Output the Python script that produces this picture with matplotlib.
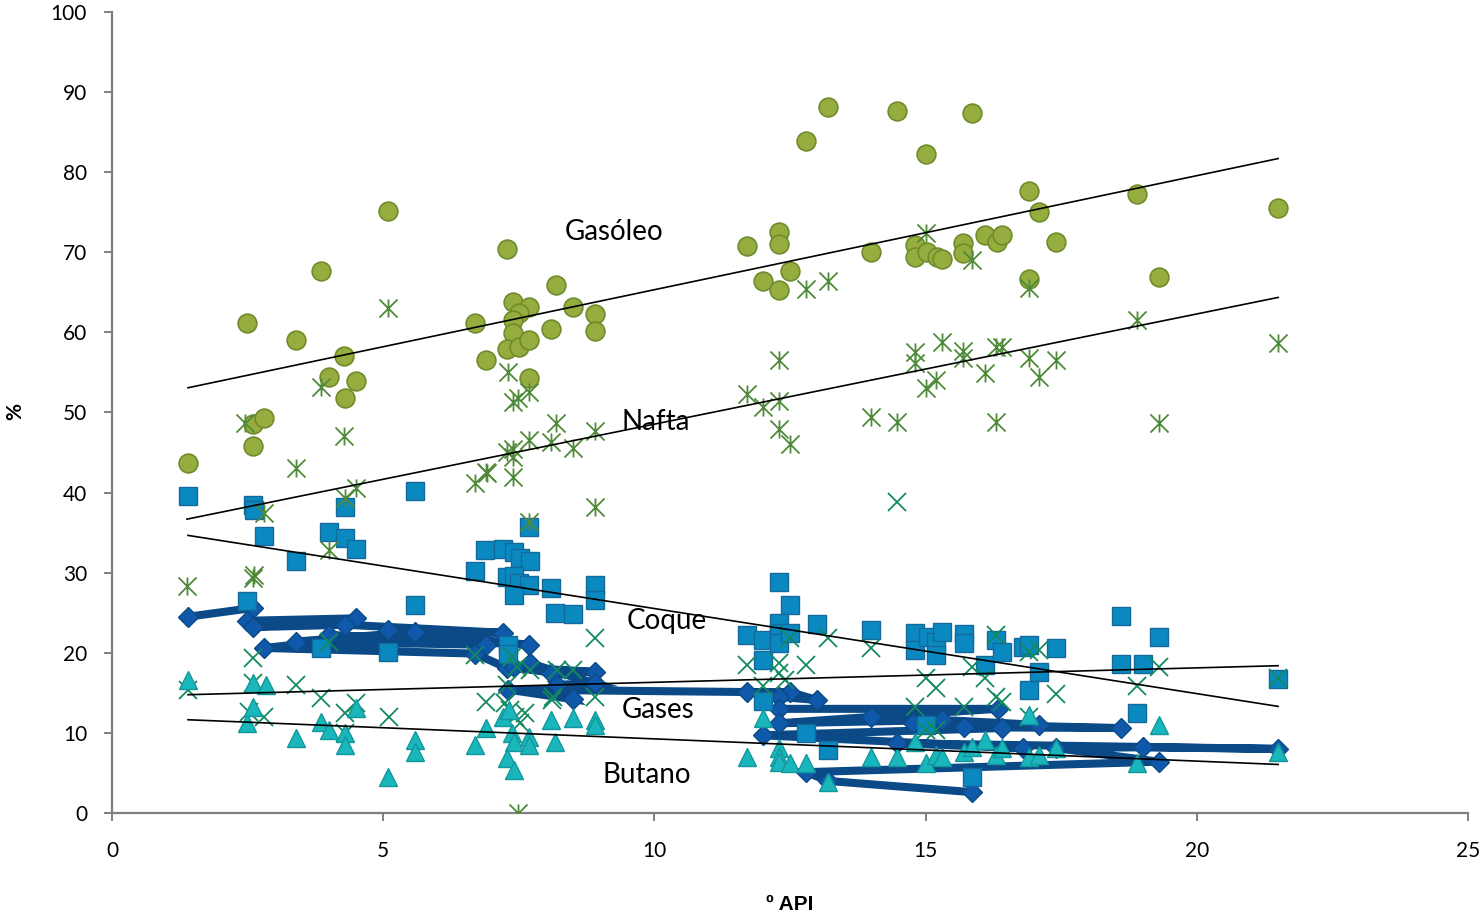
import numpy as np
import matplotlib
matplotlib.use("Agg")
import matplotlib.pyplot as plt
from matplotlib.path import Path

plt.rcParams['font.family'] = ['Lato', 'DejaVu Sans']

# ---- Data: yields (%) versus API gravity ----
gasoleo_x = [1.40, 2.49, 2.60, 2.80, 2.60, 3.39, 3.85, 4.28, 4.00, 4.50, 4.30, 5.09,
             6.69, 7.28, 6.90, 7.39, 7.69, 7.50, 7.39, 7.39, 7.28, 7.50, 7.69, 7.69,
             8.09, 8.19, 8.50, 8.90, 8.90, 12.80, 13.20, 14.47, 15.86, 15.01, 11.71,
             12.30, 12.30, 12.00, 12.30, 12.50, 13.99, 14.80, 14.80, 15.03, 15.21,
             15.30, 15.69, 15.69, 16.09, 16.31, 16.91, 17.09, 17.40, 16.91, 18.90,
             19.30, 21.50, 16.41]
gasoleo_y = [43.7, 61.2, 48.6, 49.3, 45.8, 59.1, 67.7, 57.1, 54.4, 53.9, 51.8, 75.2,
             61.2, 70.4, 56.6, 63.8, 63.2, 62.4, 61.5, 59.9, 57.9, 58.2, 59.1, 54.3,
             60.4, 65.9, 63.2, 62.3, 60.2, 83.9, 88.2, 87.6, 87.4, 82.3, 70.8,
             72.5, 71.0, 66.4, 65.3, 67.7, 70.0, 70.9, 69.4, 70.0, 69.4,
             69.2, 71.2, 69.9, 72.2, 71.3, 77.7, 75.0, 71.3, 66.7, 77.3,
             66.9, 75.5, 72.2]

nafta_x = [1.38, 5.09, 2.46, 2.60, 2.62, 2.80, 3.39, 3.85, 4.28, 4.30, 4.50, 4.00,
           7.69, 6.69, 6.91, 7.39, 7.30, 7.39, 7.49, 7.69, 8.19, 7.69, 8.09, 7.39,
           7.39, 7.28, 6.90, 8.50, 8.90, 8.90, 11.71, 12.00, 12.30, 12.30, 12.30,
           12.50, 12.80, 13.20, 13.99, 14.47, 14.80, 14.80, 15.00, 15.19, 15.30,
           15.69, 15.69, 16.10, 16.30, 16.30, 15.00, 15.86, 16.91, 16.40, 16.91,
           17.40, 17.09, 18.90, 21.50, 19.30, 7.49]
nafta_y = [28.3, 63.0, 48.7, 29.3, 29.7, 37.4, 43.1, 53.2, 47.1, 39.3, 40.6, 32.8,
           36.3, 41.2, 42.4, 41.9, 55.1, 51.3, 51.8, 52.6, 48.7, 46.6, 46.3, 45.4,
           44.4, 45.1, 42.6, 45.6, 47.7, 38.2, 52.3, 50.7, 56.6, 51.4, 48.0,
           46.1, 65.4, 66.4, 49.4, 48.8, 57.5, 56.2, 53.0, 54.1, 58.8,
           57.7, 56.8, 54.9, 58.2, 48.8, 72.4, 69.0, 65.5, 58.2, 56.8,
           56.6, 54.4, 61.5, 58.7, 48.7, 0.0]

coque_x = [1.40, 2.60, 2.62, 2.80, 3.39, 4.00, 4.30, 4.30, 4.50, 5.59, 2.49, 5.59,
           3.85, 5.09, 7.30, 6.69, 6.88, 7.20, 7.41, 7.52, 7.70, 7.28, 7.41, 7.50,
           7.69, 7.41, 7.69, 8.09, 8.17, 8.50, 8.90, 8.90, 11.70, 12.00, 12.00,
           12.30, 12.50, 12.30, 12.30, 12.30, 12.50, 13.00, 14.00, 14.80, 14.80,
           15.04, 15.20, 15.20, 15.30, 15.70, 15.70, 16.10, 16.30, 12.00, 12.80,
           13.20, 15.00, 15.86, 16.40, 16.80, 16.90, 17.40, 17.10, 16.90, 18.60,
           19.30, 18.60, 19.00, 18.90, 21.50, 7.30]
coque_y = [39.6, 38.5, 37.8, 34.6, 31.5, 35.1, 34.3, 38.2, 33.0, 40.2, 26.5, 26.0,
           20.6, 20.1, 21.0, 30.2, 32.8, 32.9, 32.6, 31.8, 31.5, 29.5, 29.6, 28.7,
           28.5, 27.2, 35.7, 28.1, 25.0, 24.8, 28.5, 26.6, 22.2, 21.6, 19.1,
           28.8, 26.0, 23.7, 22.5, 21.2, 22.5, 23.6, 22.8, 22.5, 20.3,
           22.0, 21.3, 19.7, 22.6, 22.3, 21.2, 18.5, 21.6, 14.0, 10.0,
           7.9, 11.0, 4.5, 20.1, 20.7, 21.0, 20.6, 17.6, 15.4, 24.6,
           22.0, 18.6, 18.6, 12.5, 16.7, 19.8]

# Unlabelled companion yield series (x markers)
otros_x = [1.40, 2.60, 2.60, 2.53, 2.80, 3.39, 3.85, 4.00, 4.30, 4.50, 4.30, 5.10,
           6.69, 6.90, 7.28, 7.38, 7.47, 7.70, 7.25, 7.34, 7.43, 7.61, 7.52, 8.11,
           8.20, 8.90, 8.90, 8.50, 8.13, 11.70, 12.00, 12.30, 12.30, 12.40, 12.50,
           12.80, 13.20, 14.00, 14.47, 14.80, 15.00, 15.20, 15.00, 15.20, 15.70,
           15.86, 16.10, 16.30, 16.30, 16.90, 17.10, 17.40, 16.40, 16.90, 18.90,
           19.30, 21.50]
otros_y = [15.4, 19.3, 16.2, 12.6, 12.0, 16.0, 14.3, 21.3, 12.5, 13.7, 10.0, 12.0,
           19.7, 13.9, 16.0, 19.5, 18.2, 17.9, 13.7, 12.9, 12.0, 12.5, 11.2, 14.1,
           17.9, 21.8, 14.5, 17.9, 14.5, 18.5, 15.8, 18.7, 17.5, 16.6, 21.8,
           18.5, 21.8, 20.6, 38.8, 13.2, 16.8, 15.6, 10.4, 10.4, 13.2,
           18.2, 16.8, 22.2, 14.5, 20.1, 20.3, 14.9, 13.9, 12.0, 15.8,
           18.2, 16.8]

gases_x = [1.40, 2.60, 2.49, 4.50, 2.60, 4.30, 7.20, 5.09, 7.69, 4.00, 6.90, 3.39,
           5.59, 2.80, 6.69, 7.28, 8.90, 7.41, 8.10, 7.70, 8.90, 8.20, 8.50, 7.30,
           11.70, 12.50, 13.00, 12.30, 12.30, 16.33, 14.00, 12.30, 15.30, 17.10,
           14.77, 18.60, 15.70, 16.40, 12.00, 16.80, 14.47, 21.50, 19.00, 17.40,
           19.30, 12.80, 13.20, 15.86]
gases_y = [24.5, 25.6, 24.0, 24.3, 23.2, 23.5, 22.5, 22.8, 21.0, 22.2, 21.0, 21.4,
           22.6, 20.6, 19.9, 18.1, 17.6, 18.2, 17.5, 18.7, 16.2, 16.0, 14.2, 15.4,
           15.1, 15.1, 14.1, 14.5, 13.0, 13.0, 12.0, 11.2, 11.6, 11.0,
           11.2, 10.6, 10.7, 10.6, 9.7, 8.1, 8.7, 8.0, 8.2, 8.1,
           6.4, 5.1, 4.0, 2.6]

butano_x = [1.40, 2.60, 2.83, 2.49, 2.60, 3.39, 3.85, 4.00, 4.30, 4.30, 4.50, 5.09,
            5.59, 5.59, 6.69, 6.90, 7.20, 7.32, 7.38, 7.41, 7.28, 7.41, 7.69, 7.69,
            8.17, 8.10, 8.50, 8.90, 8.90, 11.70, 12.00, 12.30, 12.30, 12.30, 12.50,
            12.80, 13.20, 14.00, 14.47, 14.80, 15.00, 15.20, 15.30, 15.70, 15.86,
            16.10, 16.30, 16.40, 16.90, 16.90, 17.10, 17.40, 18.90, 19.30, 21.50]
butano_y = [16.6, 16.2, 16.0, 11.2, 13.2, 9.4, 11.4, 10.4, 10.0, 8.5, 13.1, 4.5,
            9.1, 7.6, 8.5, 10.6, 12.0, 12.9, 10.0, 8.9, 6.9, 5.4, 9.5, 8.5,
            8.9, 11.6, 11.9, 11.6, 11.0, 7.0, 11.9, 8.1, 7.0, 6.4, 6.2,
            6.2, 3.9, 7.0, 7.0, 8.9, 6.2, 7.2, 7.0, 7.6, 8.2,
            9.1, 7.2, 8.1, 12.2, 7.0, 7.2, 8.1, 6.2, 11.0, 7.6]

labels = ["Gasóleo", "Nafta", "Coque", "Gases", "Butano"]
label_x = [9.26, 10.03, 10.23, 10.07, 9.86]
label_y = [72.5, 48.8, 24.0, 12.9, 4.7]

x_ticks = [0, 5, 10, 15, 20, 25]
y_ticks = [0, 10, 20, 30, 40, 50, 60, 70, 80, 90, 100]

# Star marker: vertical stroke plus two diagonals
star = Path([(0, -1), (0, 1), (-1, -1), (1, 1), (-1, 1), (1, -1)],
            [Path.MOVETO, Path.LINETO, Path.MOVETO, Path.LINETO, Path.MOVETO, Path.LINETO])

# ---- Figure ----
fig = plt.figure(figsize=(14.84, 9.15), dpi=100)
ax = fig.add_axes([0.0755, 0.1115, 0.9137, 0.8754])

# Gases: connected line series
ax.plot(gases_x, gases_y, color='#0B4A87', lw=5.8, solid_joinstyle='miter', zorder=2)
ax.plot(gases_x, gases_y, ls='none', marker='D', ms=10, mfc='#1058AA',
        mec='#0B4A87', mew=1, zorder=3)

ax.plot(coque_x, coque_y, ls='none', marker='s', ms=12.5, mfc='#0A89C1',
        mec='#15699A', mew=1, zorder=4)
ax.plot(gasoleo_x, gasoleo_y, ls='none', marker='o', ms=13.5, mfc='#95AD3E',
        mec='#6F8B2B', mew=1.2, zorder=4)
ax.plot(nafta_x, nafta_y, ls='none', marker=star, ms=13, mfc='none', mec='#4F8A3A',
        mew=1.3, zorder=5)
ax.plot(otros_x, otros_y, ls='none', marker='x', ms=13, mec='#138A5E',
        mew=1.3, zorder=5)
ax.plot(butano_x, butano_y, ls='none', marker='^', ms=13, mfc='#19B6BC',
        mec='#12979C', mew=1, zorder=6)

# Linear trend lines over each series' range
for xs, ys in [(gasoleo_x, gasoleo_y), (nafta_x, nafta_y), (coque_x, coque_y),
               (otros_x, otros_y), (butano_x, butano_y)]:
    xs = np.asarray(xs); ys = np.asarray(ys)
    m, b = np.polyfit(xs, ys, 1)
    xx = np.array([xs.min(), xs.max()])
    ax.plot(xx, m * xx + b, color='black', lw=1.2, zorder=7)

for t, lx, ly in zip(labels, label_x, label_y):
    ax.text(lx, ly, t, fontsize=20, ha='center', va='center', color='black', zorder=8)

ax.set_xlim(0, 25)
ax.set_ylim(0, 100)
ax.set_xticks(x_ticks)
ax.set_yticks(y_ticks)
for s in ['top', 'right']:
    ax.spines[s].set_visible(False)
for s in ['left', 'bottom']:
    ax.spines[s].set_color('#7F7F7F')
    ax.spines[s].set_linewidth(1.6)
ax.tick_params(axis='both', direction='out', length=6, width=1.4, color='#7F7F7F',
               labelsize=15, pad=12)
ax.tick_params(axis='x', pad=14)

fig.text(15 / 1484, 1 - 412 / 915, "%", rotation=90, fontsize=15, fontweight='bold',
         ha='center', va='center')
fig.text(790 / 1484, 1 - 904 / 915, "º API", fontsize=15, fontweight='bold',
         family=['Liberation Sans', 'DejaVu Sans'], ha='center', va='center')

fig.savefig("out.png", dpi=100)
